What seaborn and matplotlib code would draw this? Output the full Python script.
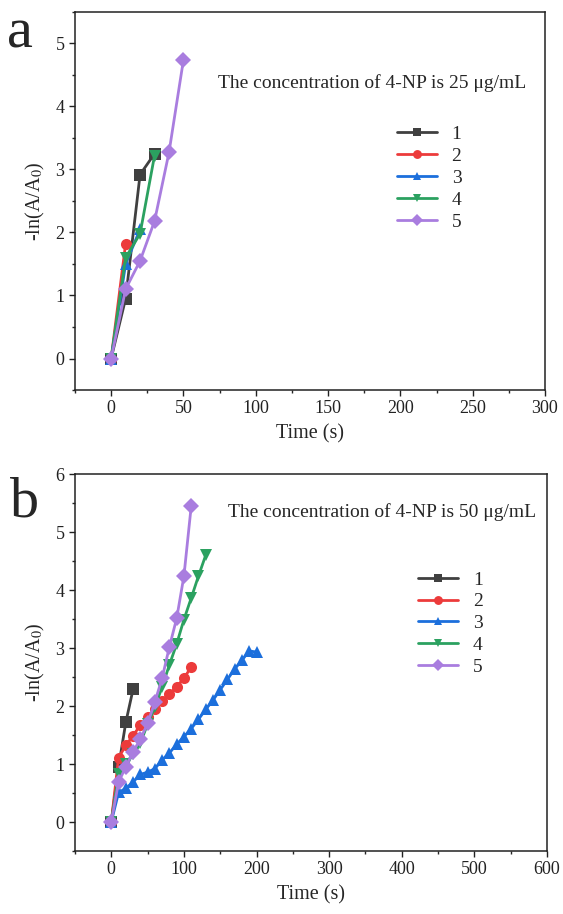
import numpy as np
import pandas as pd
import seaborn as sns
import matplotlib.pyplot as plt
from matplotlib.ticker import MultipleLocator

sns.set_theme(style="ticks")
plt.rcParams["font.family"] = ["Liberation Serif", "DejaVu Serif"]
plt.rcParams["mathtext.fontset"] = "stix"

series = ["1", "2", "3", "4", "5"]
colors = ["#404040", "#ec3b3b", "#1c6fdc", "#2ba160", "#a97ddf"]
markers = ["s", "o", "^", "v", "D"]

# panel a, 4-NP 25 ug/mL
a_time = {
    "1": [0, 10, 20, 30],
    "2": [0, 10],
    "3": [0, 10, 20],
    "4": [0, 10, 20, 30],
    "5": [0, 10, 20, 30, 40, 50],
}
a_val = {
    "1": [0, 0.95, 2.92, 3.25],
    "2": [0, 1.82],
    "3": [0, 1.50, 2.05],
    "4": [0, 1.60, 1.98, 3.22],
    "5": [0, 1.10, 1.55, 2.18, 3.27, 4.74],
}

# panel b, 4-NP 50 ug/mL
b_time = {
    "1": [0, 10, 20, 30],
    "2": [0, 10, 20, 30, 40, 50, 60, 70, 80, 90, 100, 110],
    "3": [0, 10, 20, 30, 40, 50, 60, 70, 80, 90, 100, 110, 120, 130, 140,
          150, 160, 170, 180, 190, 200],
    "4": [0, 10, 20, 30, 40, 50, 60, 70, 80, 90, 100, 110, 120, 130],
    "5": [0, 10, 20, 30, 40, 50, 60, 70, 80, 90, 100, 110],
}
b_val = {
    "1": [0, 0.95, 1.72, 2.29],
    "2": [0, 1.11, 1.32, 1.49, 1.67, 1.81, 1.94, 2.09, 2.21, 2.33, 2.48, 2.67],
    "3": [0, 0.51, 0.58, 0.69, 0.82, 0.86, 0.92, 1.07, 1.19, 1.34, 1.47,
          1.61, 1.77, 1.94, 2.10, 2.28, 2.46, 2.64, 2.79, 2.95, 2.93],
    "4": [0, 0.83, 1.00, 1.18, 1.36, 1.69, 1.98, 2.33, 2.71, 3.07, 3.49,
          3.86, 4.24, 4.60],
    "5": [0, 0.69, 0.95, 1.21, 1.43, 1.70, 2.07, 2.48, 3.02, 3.51, 4.24, 5.44],
}


def to_df(times, vals):
    rows = []
    for s in series:
        for t, v in zip(times[s], vals[s]):
            rows.append({"time": t, "value": v, "sample": s})
    return pd.DataFrame(rows)


fig = plt.figure(figsize=(5.63, 9.14), dpi=100)
ax_a = fig.add_axes([0.1332, 0.5733, 0.8348, 0.4136])
ax_b = fig.add_axes([0.1332, 0.0689, 0.8384, 0.4125])

panels = [
    (ax_a, to_df(a_time, a_val), (-25, 300), 50, (-0.5, 5.5), "25",
     (0.304, 0.812), (0.685, 0.700), "a", (0.012, 0.992)),
    (ax_b, to_df(b_time, b_val), (-50, 600), 100, (-0.5, 6), "50",
     (0.324, 0.899), (0.727, 0.743), "b", (0.018, 0.479)),
]

pal = dict(zip(series, colors))
mk = dict(zip(series, markers))

for ax, df, xl, xstep, yl, conc, tpos, lpos, letter, letpos in panels:
    sns.lineplot(data=df, x="time", y="value", hue="sample", style="sample",
                 palette=pal, markers=mk, dashes=False, sort=False,
                 errorbar=None, linewidth=2, markersize=8,
                 markeredgewidth=0, ax=ax)
    ax.set_xlim(*xl)
    ax.set_ylim(*yl)
    ax.xaxis.set_major_locator(MultipleLocator(xstep))
    ax.xaxis.set_minor_locator(MultipleLocator(xstep / 2))
    ax.yaxis.set_major_locator(MultipleLocator(1))
    ax.yaxis.set_minor_locator(MultipleLocator(0.5))
    ax.tick_params(which="major", direction="out", length=4, width=1,
                   labelsize=13, colors="#222222")
    ax.tick_params(which="minor", direction="out", length=2.5, width=1)
    for sp in ax.spines.values():
        sp.set_linewidth(1.1)
        sp.set_color("#222222")
    ax.set_xlabel("Time (s)", fontsize=14.5, labelpad=5)
    ax.set_ylabel("-ln(A/A$_0$)", fontsize=14.5, labelpad=6)
    ax.text(tpos[0], tpos[1],
            "The concentration of 4-NP is " + conc + " \u03bcg/mL",
            transform=ax.transAxes, fontsize=14, va="center")
    ax.legend(loc="upper left", bbox_to_anchor=lpos, frameon=False,
              fontsize=14, handlelength=2.06, labelspacing=0.22,
              handletextpad=0.75, borderpad=0, borderaxespad=0,
              markerscale=0.8)
    fig.text(letpos[0], letpos[1], letter, fontsize=42, va="top", ha="left")

fig.savefig("out.png", dpi=100)
